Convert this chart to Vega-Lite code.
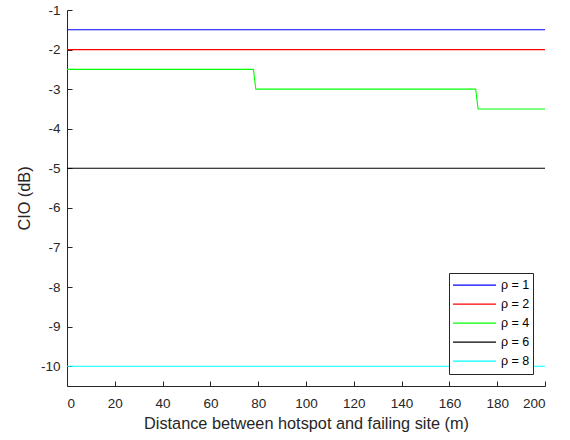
{
  "$schema": "https://vega.github.io/schema/vega-lite/v6.json",
  "autosize": "none",
  "width": 478,
  "height": 376,
  "padding": {"left": 67, "top": 10, "right": 25, "bottom": 54},
  "background": "white",
  "data": {"values": [
    {"d": 0, "cio": -1.5, "s": "ρ = 1"},
    {"d": 200, "cio": -1.5, "s": "ρ = 1"},
    {"d": 0, "cio": -2, "s": "ρ = 2"},
    {"d": 200, "cio": -2, "s": "ρ = 2"},
    {"d": 0, "cio": -2.5, "s": "ρ = 4"},
    {"d": 78, "cio": -2.5, "s": "ρ = 4"},
    {"d": 79, "cio": -3, "s": "ρ = 4"},
    {"d": 171, "cio": -3, "s": "ρ = 4"},
    {"d": 172, "cio": -3.5, "s": "ρ = 4"},
    {"d": 200, "cio": -3.5, "s": "ρ = 4"},
    {"d": 0, "cio": -5, "s": "ρ = 6"},
    {"d": 200, "cio": -5, "s": "ρ = 6"},
    {"d": 0, "cio": -10, "s": "ρ = 8"},
    {"d": 200, "cio": -10, "s": "ρ = 8"}
  ]},
  "mark": {"type": "line", "strokeWidth": 1.1},
  "encoding": {
    "x": {"field": "d", "type": "quantitative", "scale": {"domain": [0, 200], "nice": false, "zero": false},
      "axis": {"title": "Distance between hotspot and failing site (m)", "values": [0,20,40,60,80,100,120,140,160,180,200], "tickSize": -5, "labelPadding": 15, "titlePadding": 6}},
    "y": {"field": "cio", "type": "quantitative", "scale": {"domain": [-10.5, -1], "nice": false, "zero": false},
      "axis": {"title": "CIO (dB)", "values": [-1,-2,-3,-4,-5,-6,-7,-8,-9,-10], "tickSize": -5, "labelPadding": 12, "titlePadding": 8,
        "labelExpr": "replace(datum.label, '−', '-')"}},
    "color": {"field": "s", "type": "nominal",
      "scale": {"domain": ["ρ = 1","ρ = 2","ρ = 4","ρ = 6","ρ = 8"], "range": ["#0000ff","#ff0000","#00ff00","#000000","#00ffff"]},
      "legend": {"title": null, "orient": "bottom-right", "offset": 12, "symbolType": "stroke", "symbolSize": 1850, "symbolStrokeWidth": 1.1,
        "clipHeight": 18.2, "strokeColor": "#262626", "fillColor": "white", "padding": 3, "rowPadding": 0, "labelFontSize": 12.5, "labelFont": "Liberation Sans", "labelColor": "#000000", "labelOffset": 4}}
  },
  "config": {
    "view": {"stroke": null},
    "axis": {"grid": false, "domainColor": "#262626", "tickColor": "#262626", "labelColor": "#262626", "titleColor": "#262626",
      "labelFont": "Liberation Sans", "titleFont": "Liberation Sans", "labelFontSize": 13.5, "titleFontSize": 16.3, "titleFontWeight": "normal", "domainWidth": 1, "tickWidth": 1}
  }
}
